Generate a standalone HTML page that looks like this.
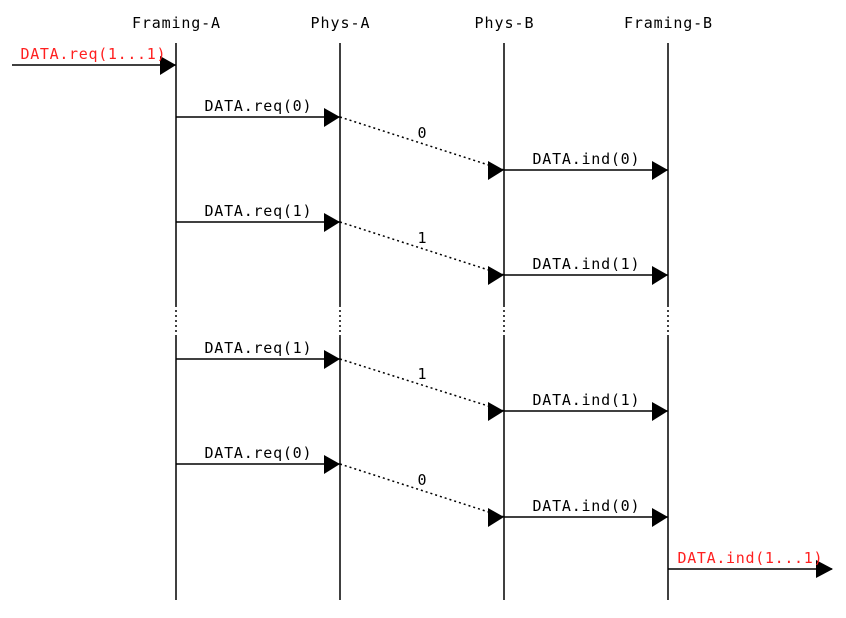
<!DOCTYPE html>
<html><head><meta charset="utf-8"><style>html,body{margin:0;padding:0;background:#fff}svg{display:block}text{font-family:"DejaVu Sans Mono","Liberation Mono",monospace;font-size:15px}</style></head>
<body>
<svg width="846" height="618" xmlns="http://www.w3.org/2000/svg">
<g text-anchor="middle" fill="#000" lengthAdjust="spacing">
<text x="176" y="28" textLength="88">Framing-A</text>
<text x="340" y="28" textLength="59">Phys-A</text>
<text x="504" y="28" textLength="59">Phys-B</text>
<text x="668" y="28" textLength="88">Framing-B</text>
</g>
<g stroke="#000" stroke-width="1.5">
<line x1="176" y1="43" x2="176" y2="305"/><line x1="176" y1="305" x2="176" y2="335" stroke-dasharray="2,3"/><line x1="176" y1="335" x2="176" y2="600"/>
<line x1="340" y1="43" x2="340" y2="305"/><line x1="340" y1="305" x2="340" y2="335" stroke-dasharray="2,3"/><line x1="340" y1="335" x2="340" y2="600"/>
<line x1="504" y1="43" x2="504" y2="305"/><line x1="504" y1="305" x2="504" y2="335" stroke-dasharray="2,3"/><line x1="504" y1="335" x2="504" y2="600"/>
<line x1="668" y1="43" x2="668" y2="305"/><line x1="668" y1="305" x2="668" y2="335" stroke-dasharray="2,3"/><line x1="668" y1="335" x2="668" y2="600"/>
<line x1="12" y1="65" x2="176" y2="65"/>
<line x1="668" y1="569" x2="832" y2="569"/>
<line x1="176" y1="117" x2="340" y2="117"/><line x1="504" y1="170" x2="668" y2="170"/>
<line x1="176" y1="222" x2="340" y2="222"/><line x1="504" y1="275" x2="668" y2="275"/>
<line x1="176" y1="359" x2="340" y2="359"/><line x1="504" y1="411" x2="668" y2="411"/>
<line x1="176" y1="464" x2="340" y2="464"/><line x1="504" y1="517" x2="668" y2="517"/>
</g>
<g stroke="#000" stroke-width="1.5" stroke-dasharray="2,3">
<line x1="340" y1="117" x2="504" y2="170"/>
<line x1="340" y1="222" x2="504" y2="275"/>
<line x1="340" y1="359" x2="504" y2="411"/>
<line x1="340" y1="464" x2="504" y2="517"/>
</g>
<g fill="#000">
<polygon points="160,56 176,65 160,75"/>
<polygon points="816,560 833,569 816,578"/>
<polygon points="324,108 340,117 324,127"/><polygon points="488,161 504,170 488,180"/><polygon points="652,161 668,170 652,180"/>
<polygon points="324,213 340,222 324,232"/><polygon points="488,266 504,275 488,285"/><polygon points="652,266 668,275 652,285"/>
<polygon points="324,350 340,359 324,369"/><polygon points="488,402 504,411 488,421"/><polygon points="652,402 668,411 652,421"/>
<polygon points="324,455 340,464 324,474"/><polygon points="488,508 504,517 488,527"/><polygon points="652,508 668,517 652,527"/>
</g>
<g text-anchor="middle" fill="#000" lengthAdjust="spacing">
<text x="258" y="111" textLength="107">DATA.req(0)</text><text x="422" y="138">0</text><text x="586" y="164" textLength="107">DATA.ind(0)</text>
<text x="258" y="216" textLength="107">DATA.req(1)</text><text x="422" y="243">1</text><text x="586" y="269" textLength="107">DATA.ind(1)</text>
<text x="258" y="353" textLength="107">DATA.req(1)</text><text x="422" y="379">1</text><text x="586" y="405" textLength="107">DATA.ind(1)</text>
<text x="258" y="458" textLength="107">DATA.req(0)</text><text x="422" y="485">0</text><text x="586" y="511" textLength="107">DATA.ind(0)</text>
</g>
<g fill="#ff2020" text-anchor="middle" lengthAdjust="spacing">
<text x="93" y="59" textLength="145">DATA.req(1...1)</text>
<text x="750" y="563" textLength="145">DATA.ind(1...1)</text>
</g>
</svg>
</body></html>
